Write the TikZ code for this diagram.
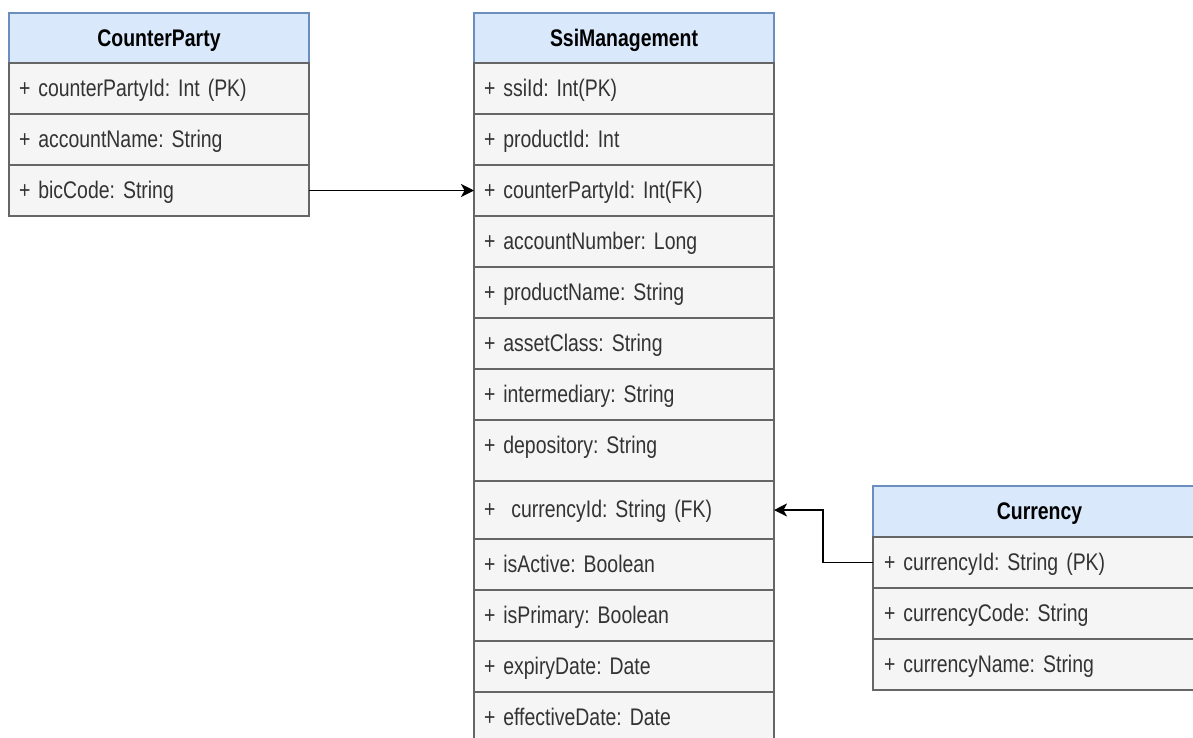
\documentclass[tikz,border=0pt]{standalone}
\usepackage{fontspec}
\setmainfont[FakeStretch=0.81, WordSpace=0.7]{Liberation Sans}
\usetikzlibrary{arrows.meta}
\definecolor{hdrfill}{HTML}{DAE8FC}
\definecolor{hdrline}{HTML}{6C8EBF}
\definecolor{rowfill}{HTML}{F5F5F5}
\definecolor{rowline}{HTML}{666666}
\definecolor{rowtext}{HTML}{333333}
\frenchspacing
\begin{document}
\begin{tikzpicture}[x=1pt,y=-1pt,
  base/.style={rectangle, outer sep=0pt, inner sep=0pt, minimum width=300pt,
    line width=1.5pt, anchor=north west},
  header/.style={base, draw=hdrline, fill=hdrfill, minimum height=50pt,
    text height=21pt, text depth=5pt,
    font=\bfseries\fontsize{24}{28}\selectfont, text=black},
  field/.style={base, draw=rowline, fill=rowfill, minimum height=51pt,
    text height=20pt, text depth=5pt,
    text width=280pt, align=left, text=rowtext, font=\fontsize{24}{28}\selectfont},
  wide/.style={minimum width=333pt},
  widefield/.style={field, wide, text width=311pt},
  link/.style={line width=1.8pt, draw=black,
    -{Stealth[length=13pt,width=13pt,inset=3.5pt]}}
]
\useasboundingbox (0,0) rectangle (1193,737);
\clip (0,0) rectangle (1193,737);
\fill[white] (0,0) rectangle (1193,737);

% CounterParty table
\node[header] (cp0) at (9,13) {CounterParty};
\node[field] (cp1) at (cp0.south west) {+ counterPartyId: Int (PK)};
\node[field] (cp2) at (cp1.south west) {+ accountName: String};
\node[field] (cp3) at (cp2.south west) {+ bicCode: String};

% SsiManagement table
\node[header] (s0) at (474,13) {SsiManagement};
\node[field] (s1) at (s0.south west) {+ ssiId: Int(PK)};
\node[field] (s2) at (s1.south west) {+ productId: Int};
\node[field] (s3) at (s2.south west) {+ counterPartyId: Int(FK)};
\node[field] (s4) at (s3.south west) {+ accountNumber: Long};
\node[field] (s5) at (s4.south west) {+ productName: String};
\node[field] (s6) at (s5.south west) {+ assetClass: String};
\node[field] (s7) at (s6.south west) {+ intermediary: String};
\node[field, minimum height=61pt, text depth=15pt] (s8) at (s7.south west) {+ depository: String};
\node[field, minimum height=58pt] (s9) at (s8.south west) {+~ currencyId: String (FK)};
\node[field] (s10) at (s9.south west) {+ isActive: Boolean};
\node[field] (s11) at (s10.south west) {+ isPrimary: Boolean};
\node[field] (s12) at (s11.south west) {+ expiryDate: Date};
\node[field] (s13) at (s12.south west) {+ effectiveDate: Date};

% Currency table
\node[header, wide, minimum height=51pt] (c0) at (873,486) {Currency};
\node[widefield] (c1) at (c0.south west) {+ currencyId: String (PK)};
\node[widefield] (c2) at (c1.south west) {+ currencyCode: String};
\node[widefield] (c3) at (c2.south west) {+ currencyName: String};

% Foreign-key references
\draw[link] (cp3.east) -- (s3.west);
\draw[link] (c1.west) -- ++(-50,0) |- (s9.east);
\end{tikzpicture}
\end{document}
